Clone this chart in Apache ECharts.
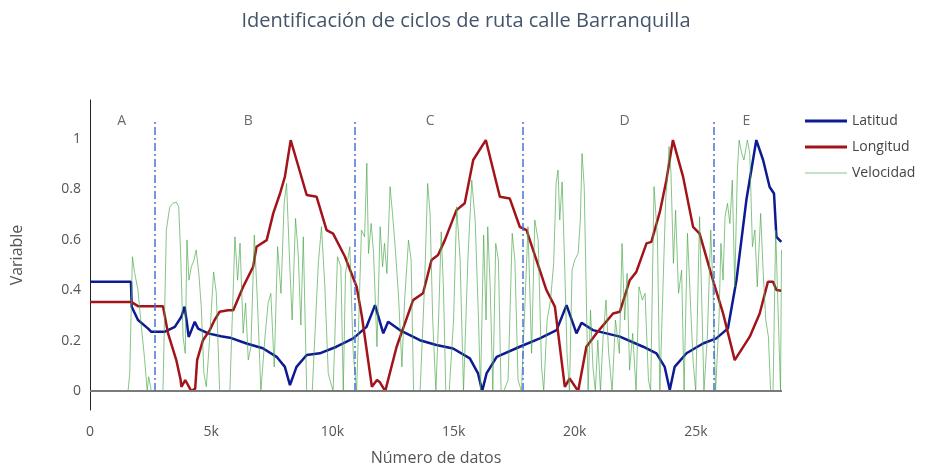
<!DOCTYPE html>
<html>
<head>
<meta charset="utf-8">
<script src="https://cdn.jsdelivr.net/npm/echarts@6/dist/echarts.min.js"></script>
<style>
  html, body { margin: 0; padding: 0; background: #fff; }
  #chart { width: 932px; height: 470px; }
</style>
</head>
<body>
<div id="chart"></div>
<script>
// datos (x = numero de dato)
var latX = [0, 1690, 1720, 1980, 2400, 2530, 3070, 3500, 3770, 3900, 4000, 4070, 4180, 4320, 4460, 4870, 5400, 5770, 6460, 7130, 7700, 8040, 8250, 8520, 8940, 9480, 10170, 10860, 11410, 11760, 12100, 12300, 12780, 13610, 14290, 14980, 15670, 16010, 16180, 16360, 16780, 17730, 18560, 19250, 19660, 20070, 20280, 20750, 21860, 22820, 23370, 23710, 23920, 24120, 24610, 25290, 25840, 26320, 26670, 27080, 27490, 27770, 28040, 28220, 28320, 28520];
var latY = [0.434, 0.434, 0.335, 0.282, 0.248, 0.235, 0.235, 0.255, 0.295, 0.335, 0.27, 0.215, 0.24, 0.275, 0.248, 0.229, 0.218, 0.212, 0.189, 0.17, 0.136, 0.096, 0.024, 0.096, 0.143, 0.15, 0.176, 0.209, 0.255, 0.341, 0.229, 0.275, 0.242, 0.202, 0.183, 0.169, 0.13, 0.07, 0.0, 0.07, 0.136, 0.176, 0.209, 0.242, 0.341, 0.229, 0.271, 0.242, 0.216, 0.176, 0.15, 0.096, 0.004, 0.096, 0.15, 0.189, 0.209, 0.249, 0.44, 0.758, 0.996, 0.917, 0.81, 0.784, 0.612, 0.592];

var lonX = [0, 1700, 1980, 3010, 3220, 3560, 3740, 3770, 3930, 4180, 4340, 4420, 4660, 4940, 5140, 5350, 5690, 5910, 6320, 6730, 6870, 7290, 7560, 7840, 8040, 8280, 8520, 8940, 9350, 9760, 10030, 10520, 11000, 11220, 11630, 11840, 11960, 12180, 12650, 13330, 13740, 14090, 14360, 14640, 15120, 15460, 15810, 16330, 16910, 17320, 17730, 18010, 18830, 19180, 19590, 19790, 20140, 20480, 20890, 21580, 21860, 22270, 22540, 22960, 23160, 23510, 23780, 24050, 24470, 24880, 25150, 25700, 26120, 26600, 27220, 27630, 27970, 28180, 28320, 28520];
var lonY = [0.354, 0.354, 0.337, 0.337, 0.229, 0.123, 0.044, 0.017, 0.044, 0.0, 0.01, 0.123, 0.202, 0.242, 0.282, 0.315, 0.321, 0.321, 0.414, 0.493, 0.573, 0.599, 0.705, 0.784, 0.85, 0.996, 0.917, 0.778, 0.771, 0.639, 0.625, 0.533, 0.414, 0.295, 0.017, 0.044, 0.035, 0.0, 0.176, 0.361, 0.388, 0.52, 0.54, 0.599, 0.718, 0.745, 0.917, 0.996, 0.771, 0.764, 0.652, 0.639, 0.401, 0.335, 0.017, 0.05, 0.0, 0.176, 0.229, 0.308, 0.315, 0.44, 0.473, 0.586, 0.592, 0.711, 0.837, 0.996, 0.85, 0.652, 0.625, 0.44, 0.308, 0.123, 0.216, 0.308, 0.434, 0.434, 0.401, 0.398];

var velX = [0, 1570, 1640, 1750, 1840, 1980, 2120, 2250, 2360, 2420, 2530, 3010, 3150, 3290, 3420, 3560, 3660, 3740, 3840, 3930, 4000, 4080, 4180, 4290, 4380, 4490, 4590, 4700, 4800, 4940, 5100, 5210, 5350, 5770, 5980, 6090, 6190, 6320, 6420, 6530, 6640, 6780, 6910, 7050, 7220, 7350, 7460, 7600, 7740, 7880, 8010, 8110, 8250, 8340, 8480, 8590, 8700, 8800, 8940, 9170, 9420, 9550, 9690, 9830, 10030, 10210, 10350, 10450, 10540, 10720, 10860, 11000, 11200, 11330, 11420, 11490, 11600, 11700, 11840, 11970, 12070, 12150, 12250, 12380, 12480, 12590, 12730, 12870, 12980, 13140, 13250, 13350, 13620, 13800, 13930, 14030, 14140, 14270, 14380, 14490, 14580, 14680, 14820, 15000, 15130, 15270, 15410, 15590, 15750, 15890, 16030, 16110, 16240, 16340, 16410, 16510, 16620, 16740, 16850, 16960, 17070, 17250, 17420, 17530, 17660, 17800, 17940, 18070, 18220, 18350, 18490, 18630, 18720, 18860, 19000, 19130, 19230, 19310, 19380, 19480, 19590, 19680, 19780, 19890, 20000, 20140, 20230, 20300, 20390, 20470, 20550, 20650, 20750, 20850, 20950, 21060, 21170, 21290, 21400, 21540, 21680, 21840, 21950, 22060, 22160, 22260, 22390, 22530, 22650, 22790, 22900, 23040, 23130, 23270, 23410, 23510, 23640, 23750, 23840, 23890, 23970, 24070, 24160, 24280, 24410, 24510, 24650, 24780, 24880, 24990, 25150, 25260, 25330, 25470, 25610, 25700, 25810, 25950, 26030, 26120, 26200, 26300, 26400, 26500, 26600, 26710, 26780, 26890, 26980, 27120, 27220, 27330, 27430, 27530, 27670, 27770, 27880, 27990, 28080, 28180, 28290, 28400, 28490, 28530];
var velY = [0, 0, 0.07, 0.533, 0.47, 0.4, 0.255, 0.13, 0, 0.057, 0, 0, 0.639, 0.73, 0.745, 0.75, 0.731, 0.546, 0.215, 0.15, 0.6, 0.44, 0.493, 0.52, 0.56, 0.467, 0.335, 0.07, 0.017, 0.215, 0.473, 0.39, 0, 0, 0.612, 0.44, 0.587, 0.23, 0.349, 0.123, 0.176, 0.619, 0.349, 0, 0.215, 0.349, 0.388, 0.096, 0.573, 0.388, 0.745, 0.824, 0.48, 0.282, 0.685, 0.546, 0.262, 0.612, 0, 0, 0.507, 0.652, 0.414, 0.07, 0, 0.533, 0.493, 0, 0.467, 0.573, 0.15, 0, 0.639, 0.612, 0.904, 0.546, 0.665, 0.546, 0.176, 0.652, 0.493, 0.586, 0.467, 0.811, 0.705, 0.573, 0.374, 0.096, 0.361, 0.599, 0.52, 0, 0, 0.414, 0.824, 0.705, 0.282, 0, 0.282, 0.632, 0.414, 0, 0, 0.282, 0.731, 0.52, 0, 0.52, 0.837, 0.679, 0.282, 0, 0.619, 0.282, 0.652, 0.414, 0, 0.586, 0.52, 0, 0, 0.044, 0.626, 0.52, 0.044, 0, 0.335, 0.652, 0.15, 0.679, 0.599, 0.096, 0, 0.282, 0.361, 0.507, 0.824, 0.877, 0.679, 0.83, 0.48, 0.15, 0, 0.48, 0.52, 0.546, 0.679, 0.943, 0.811, 0.414, 0, 0.321, 0.096, 0, 0.202, 0, 0.215, 0.361, 0.15, 0, 0.282, 0.15, 0.586, 0.282, 0.467, 0.083, 0.229, 0, 0.414, 0.361, 0.388, 0.044, 0, 0.811, 0.612, 0, 0.414, 0.758, 0.877, 0.97, 0.864, 0.507, 0.718, 0.388, 0.48, 0, 0.626, 0.335, 0.123, 0, 0.692, 0.282, 0, 0.215, 0.639, 0.414, 0, 0.282, 0.586, 0.44, 0.692, 0.745, 0.665, 0.837, 0.414, 0.877, 0.996, 0.943, 0.917, 0.996, 0.943, 0.573, 0.639, 0.414, 0.705, 0.48, 0.282, 0.215, 0, 0, 0.639, 0.282, 0, 0.56];

// limites de ciclo y etiquetas
var cycleBounds = [2680, 10930, 17840, 25740];
var cycleNames = ['A', 'B', 'C', 'D', 'E'];
var cycleNameX = [1310, 6530, 14030, 22060, 27080];

var xTicks = [0, 5000, 10000, 15000, 20000, 25000];
var yTicks = [0, 0.2, 0.4, 0.6, 0.8, 1];

function pairs(xs, ys) {
    return xs.map(function (x, i) { return [x, ys[i]]; });
}

var font = '"Open Sans", "Noto Sans", sans-serif';
var thickLine = 'path://M0,0h40v3h-40z';
var thinLine = 'path://M0,0h40v1h-40z';
var myChart = echarts.init(document.getElementById('chart'));

var option = {
    animation: false,
    backgroundColor: '#fff',
    textStyle: { fontFamily: font },
    title: {
        text: 'Identificación de ciclos de ruta calle Barranquilla',
        left: 'center',
        top: 6,
        textStyle: { fontFamily: font, fontSize: 20, fontWeight: 'normal', color: '#44546a' }
    },
    legend: {
        data: [
            { name: 'Latitud', icon: thickLine },
            { name: 'Longitud', icon: thickLine },
            { name: 'Velocidad', icon: thinLine }
        ],
        orient: 'vertical',
        left: 800,
        top: 109,
        itemWidth: 42,
        itemHeight: 14,
        itemGap: 12,
        textStyle: { fontFamily: font, fontSize: 14, color: '#444' }
    },
    grid: { left: 90, right: 150, top: 100, bottom: 60, containLabel: false, outerBoundsMode: 'none' },
    xAxis: {
        type: 'value',
        min: 0,
        max: 28550,
        interval: 5000,
        name: 'Número de datos',
        nameLocation: 'middle',
        nameGap: 40,
        nameTextStyle: { fontFamily: font, fontSize: 16, color: '#555' },
        axisLine: { show: false },
        axisTick: { show: false },
        splitLine: { show: false },
        axisLabel: {
            fontFamily: font, fontSize: 14, color: '#555', margin: 15,
            customValues: xTicks,
            formatter: function (v) { return v === 0 ? '0' : (v / 1000) + 'k'; }
        }
    },
    yAxis: {
        type: 'value',
        min: -0.075,
        max: 1.155,
        name: 'Variable',
        nameLocation: 'middle',
        nameRotate: 90,
        nameGap: 65,
        nameTextStyle: { fontFamily: font, fontSize: 16, color: '#555' },
        axisLine: { show: true, onZero: false, lineStyle: { color: '#222', width: 1 } },
        axisTick: { show: false },
        splitLine: { show: false },
        axisLabel: {
            fontFamily: font, fontSize: 14, color: '#555', margin: 9,
            customValues: yTicks,
            formatter: function (v) { return String(v); }
        }
    },
    series: [
        {
            name: 'Latitud',
            type: 'line',
            symbol: 'none',
            data: pairs(latX, latY),
            lineStyle: { color: '#0d1a94', width: 2.5 },
            itemStyle: { color: '#0d1a94' },
            markLine: {
                silent: true,
                symbol: 'none',
                label: { show: false },
                lineStyle: { color: '#7a7a7a', width: 2, type: 'solid' },
                data: [{ yAxis: 0 }]
            },
            z: 3
        },
        {
            name: 'Longitud',
            type: 'line',
            symbol: 'none',
            data: pairs(lonX, lonY),
            lineStyle: { color: '#a3141a', width: 2.5 },
            itemStyle: { color: '#a3141a' },
            z: 3
        },
        {
            name: 'Velocidad',
            type: 'line',
            symbol: 'none',
            data: pairs(velX, velY),
            lineStyle: { color: 'rgba(70,165,70,0.65)', width: 1 },
            itemStyle: { color: 'rgba(70,165,70,0.65)' },
            z: 4
        },
        {
            name: 'ciclos',
            type: 'scatter',
            symbolSize: 0,
            silent: true,
            data: cycleNames.map(function (n, i) { return [cycleNameX[i], 1.07, n]; }),
            label: {
                show: true,
                position: 'inside',
                formatter: function (p) { return p.value[2]; },
                fontFamily: font,
                fontSize: 14,
                color: '#444'
            },
            markLine: {
                silent: true,
                symbol: 'none',
                label: { show: false },
                lineStyle: { color: '#4a72d6', width: 1.5, type: [8, 3, 2, 3] },
                data: cycleBounds.map(function (b) {
                    return [{ coord: [b, 0] }, { coord: [b, 1.08] }];
                })
            },
            z: 5
        }
    ]
};

myChart.setOption(option);
</script>
</body>
</html>
